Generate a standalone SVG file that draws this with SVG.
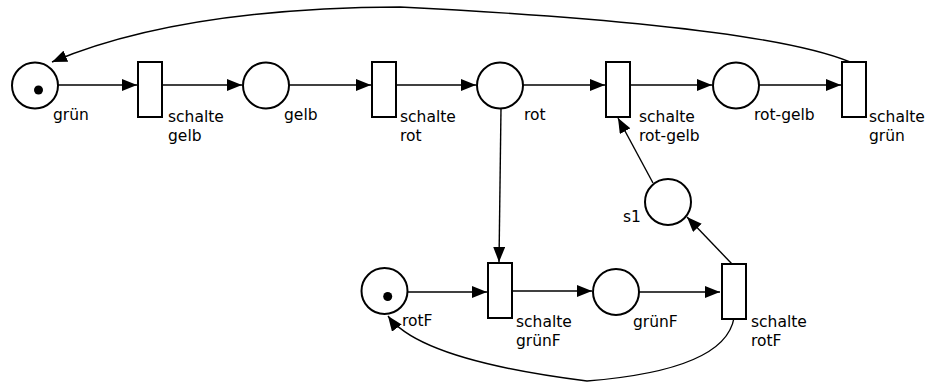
<svg xmlns="http://www.w3.org/2000/svg" width="930" height="383" viewBox="0 0 930 383">
<style>
.p{fill:#fff;stroke:#000;stroke-width:2}
.t{fill:#fff;stroke:#000;stroke-width:2}
.k{fill:#000}
.e{fill:none;stroke:#000;stroke-width:1.4;marker-end:url(#a)}
text{font-family:"DejaVu Sans",sans-serif;font-size:15.5px;fill:#000}
</style>
<defs>
<marker id="a" markerUnits="userSpaceOnUse" markerWidth="16" markerHeight="12" viewBox="0 0 16 12" refX="15" refY="6" orient="auto">
<path d="M0,0 L15,6 L0,12 Z" fill="#000"/>
</marker>
</defs>
<g id="edges">
<path class="e" d="M58,85 H137"/>
<path class="e" d="M162,85 H242"/>
<path class="e" d="M289,85 H371"/>
<path class="e" d="M396,85 H476"/>
<path class="e" d="M523,85 H605"/>
<path class="e" d="M631,85 H712"/>
<path class="e" d="M759,85 H841"/>
<path class="e" d="M501,108 L499,262"/>
<path class="e" d="M407,292 H487"/>
<path class="e" d="M512,291 H592"/>
<path class="e" d="M639,292 H720"/>
<path class="e" d="M732,264 L687,217"/>
<path class="e" d="M653,183 L618,118"/>
<path class="e" d="M850,62 Q760,25 400,7 Q180,8 52,62"/>
<path class="e" d="M734,318 Q725,370 587,381 Q420,360 388,316"/>
</g>
<g id="gruen"><circle class="p" cx="35" cy="85.5" r="23"/><circle class="k" cx="38.5" cy="90" r="4.5"/><text x="53" y="120">grün</text></g>
<g id="schalte-gelb"><rect class="t" x="138" y="62" width="24" height="55"/><text x="168" y="122">schalte</text><text x="168" y="141">gelb</text></g>
<g id="gelb"><circle class="p" cx="266" cy="85.5" r="23"/><text x="284" y="120">gelb</text></g>
<g id="schalte-rot"><rect class="t" x="372" y="62" width="24" height="55"/><text x="400" y="122">schalte</text><text x="400" y="141">rot</text></g>
<g id="rot"><circle class="p" cx="500" cy="85.5" r="23"/><text x="524" y="120">rot</text></g>
<g id="schalte-rot-gelb"><rect class="t" x="606" y="62" width="24" height="55"/><text x="639" y="122">schalte</text><text x="639" y="141">rot-gelb</text></g>
<g id="rot-gelb"><circle class="p" cx="736" cy="85.5" r="23"/><text x="754" y="120">rot-gelb</text></g>
<g id="schalte-gruen"><rect class="t" x="842" y="62" width="24" height="55"/><text x="869" y="122">schalte</text><text x="869" y="141">grün</text></g>
<g id="s1"><circle class="p" cx="668" cy="202" r="23"/><text x="623" y="222">s1</text></g>
<g id="rotF"><circle class="p" cx="384.5" cy="291" r="23"/><circle class="k" cx="387.7" cy="296.5" r="4.5"/><text x="402" y="326">rotF</text></g>
<g id="schalte-gruenF"><rect class="t" x="488" y="263" width="24" height="55"/><text x="516" y="327">schalte</text><text x="516" y="346">grünF</text></g>
<g id="gruenF"><circle class="p" cx="616" cy="292" r="23"/><text x="633" y="327">grünF</text></g>
<g id="schalte-rotF"><rect class="t" x="722" y="264" width="24" height="55"/><text x="751" y="327">schalte</text><text x="751" y="346">rotF</text></g>
</svg>
